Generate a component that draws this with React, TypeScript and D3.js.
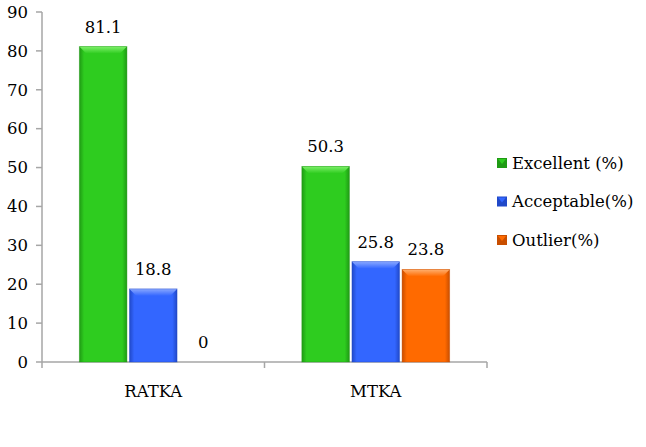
import React from "react";
import * as d3 from "d3";

const categories = ["RATKA", "MTKA"];
const seriesNames = ["Excellent (%)", "Acceptable(%)", "Outlier(%)"];
const excellent = [81.1, 50.3];
const acceptable = [18.8, 25.8];
const outlier = [0, 23.8];
const yTicks = [0, 10, 20, 30, 40, 50, 60, 70, 80, 90];

const colors = ["#2ecc1f", "#3366ff", "#ff6a00"];
const darks = ["#1f9a14", "#2048c8", "#c84e00"];
const lights = ["#7ef06a", "#8aa8ff", "#ffb070"];

const W = 646;
const H = 447;
const m = { left: 42, top: 12, right: 159, bottom: 85 };

const font = "DejaVu Serif";

export default function App() {
  const series = [excellent, acceptable, outlier];
  const x = d3.scaleBand().domain(categories).range([m.left, W - m.right]).paddingInner(0).paddingOuter(0);
  const inner = d3.scaleBand().domain(seriesNames).range([0, x.bandwidth()]).paddingOuter(0.745).paddingInner(0.05);
  const y = d3.scaleLinear().domain([0, 90]).range([H - m.bottom, m.top]);
  const bw = inner.bandwidth();
  const bev = 7;
  const ts: React.CSSProperties = { fontFamily: font, fontSize: 16.5 };

  return (
    <svg width={W} height={H} style={{ position: "absolute", left: 0, top: 0 }}>
      <defs>
        {colors.map((c, i) => (
          <linearGradient key={i} id={`g${i}`} x1="0" x2="1" y1="0" y2="0">
            <stop offset="0" stopColor={darks[i]} />
            <stop offset="0.1" stopColor={c} />
            <stop offset="0.9" stopColor={c} />
            <stop offset="1" stopColor={darks[i]} />
          </linearGradient>
        ))}
        {colors.map((c, i) => (
          <linearGradient key={"t" + i} id={`t${i}`} x1="0" x2="0" y1="0" y2="1">
            <stop offset="0" stopColor={lights[i]} />
            <stop offset="1" stopColor={c} />
          </linearGradient>
        ))}
      </defs>
      <rect width={W} height={H} fill="#fff" />
      {/* y axis */}
      <line x1={m.left} x2={m.left} y1={y(90)} y2={y(0)} stroke="#a6a6a6" strokeWidth={1.5} />
      {yTicks.map((t) => (
        <g key={t}>
          <line x1={m.left - 6} x2={m.left} y1={y(t)} y2={y(t)} stroke="#a6a6a6" strokeWidth={1.5} />
          <text x={m.left - 14} y={y(t)} dy="0.35em" textAnchor="end" style={ts} fill="#000">
            {t}
          </text>
        </g>
      ))}
      {/* x axis */}
      <line x1={m.left} x2={W - m.right} y1={y(0)} y2={y(0)} stroke="#a6a6a6" strokeWidth={1.5} />
      {[...categories.map((c) => x(c)!), W - m.right].map((p, i) => (
        <line key={i} x1={p} x2={p} y1={y(0)} y2={y(0) + 6} stroke="#a6a6a6" strokeWidth={1.5} />
      ))}
      {categories.map((c) => (
        <text key={c} x={x(c)! + x.bandwidth() / 2} y={y(0) + 35} textAnchor="middle" style={ts}>
          {c}
        </text>
      ))}
      {/* bars */}
      {categories.map((c, ci) =>
        series.map((s, si) => {
          const v = s[ci];
          const bx = x(c)! + inner(seriesNames[si])!;
          const by = y(v);
          const h = y(0) - by;
          return (
            <g key={c + si}>
              {h > 0 && (
                <>
                  <rect x={bx} y={by} width={bw} height={h} fill={`url(#g${si})`} />
                  <path
                    d={`M${bx},${by}L${bx + bw},${by}L${bx + bw - bev},${by + bev}L${bx + bev},${by + bev}Z`}
                    fill={`url(#t${si})`}
                  />
                  <rect x={bx} y={by} width={bw} height={h} fill="none" stroke={darks[si]} strokeOpacity={0.5} strokeWidth={0.8} />
                </>
              )}
              <text x={bx + bw / 2} y={by - 14} textAnchor="middle" style={ts}>
                {v}
              </text>
            </g>
          );
        })
      )}
      {/* legend */}
      {seriesNames.map((n, i) => (
        <g key={n} transform={`translate(497, ${163 + i * 38.5})`}>
          <rect x={0} y={-5} width={10} height={10} fill={darks[i]} />
          <path d="M1,-4L9,-4L5,1Z" fill={colors[i]} />
          <text x={15} y={0} dy="0.35em" style={ts}>
            {n}
          </text>
        </g>
      ))}
    </svg>
  );
}
